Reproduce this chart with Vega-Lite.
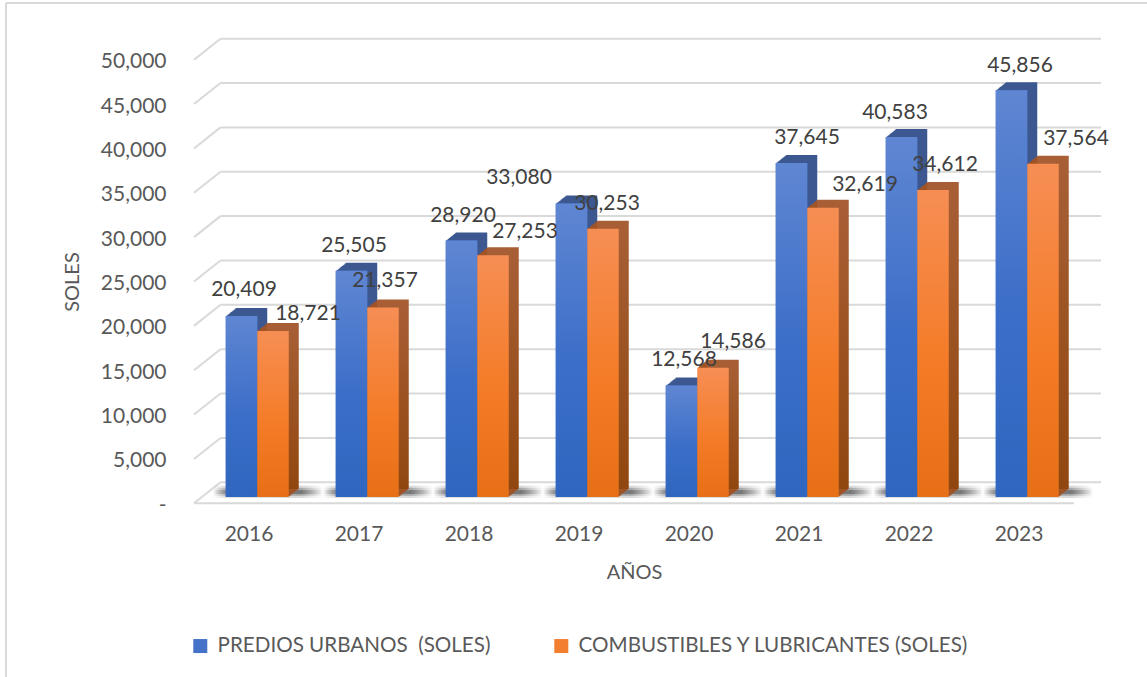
{
"$schema":"https://vega.github.io/schema/vega-lite/v6.json",
"width":880,"height":443.6,
"autosize":"none",
"padding":{"left":194,"top":59.7,"right":73,"bottom":173.7},
"background":"white",
"datasets":{
"bars":[
{"year":2016,"series":"PREDIOS URBANOS \u00a0(SOLES)","soles":20409},
{"year":2017,"series":"PREDIOS URBANOS \u00a0(SOLES)","soles":25505},
{"year":2018,"series":"PREDIOS URBANOS \u00a0(SOLES)","soles":28920},
{"year":2019,"series":"PREDIOS URBANOS \u00a0(SOLES)","soles":33080},
{"year":2020,"series":"PREDIOS URBANOS \u00a0(SOLES)","soles":12568},
{"year":2021,"series":"PREDIOS URBANOS \u00a0(SOLES)","soles":37645},
{"year":2022,"series":"PREDIOS URBANOS \u00a0(SOLES)","soles":40583},
{"year":2023,"series":"PREDIOS URBANOS \u00a0(SOLES)","soles":45856},
{"year":2016,"series":"COMBUSTIBLES Y LUBRICANTES (SOLES)","soles":18721},
{"year":2017,"series":"COMBUSTIBLES Y LUBRICANTES (SOLES)","soles":21357},
{"year":2018,"series":"COMBUSTIBLES Y LUBRICANTES (SOLES)","soles":27253},
{"year":2019,"series":"COMBUSTIBLES Y LUBRICANTES (SOLES)","soles":30253},
{"year":2020,"series":"COMBUSTIBLES Y LUBRICANTES (SOLES)","soles":14586},
{"year":2021,"series":"COMBUSTIBLES Y LUBRICANTES (SOLES)","soles":32619},
{"year":2022,"series":"COMBUSTIBLES Y LUBRICANTES (SOLES)","soles":34612},
{"year":2023,"series":"COMBUSTIBLES Y LUBRICANTES (SOLES)","soles":37564}
],
"grid":[
{"tick":0,"back":2370},{"tick":5000,"back":7370},{"tick":10000,"back":12370},{"tick":15000,"back":17370},{"tick":20000,"back":22370},{"tick":25000,"back":27370},{"tick":30000,"back":32370},{"tick":35000,"back":37370},{"tick":40000,"back":42370},{"tick":45000,"back":47370},{"tick":50000,"back":52370}
]
},
"config":{"view":{"stroke":null},"font":"Lato"},
"resolve":{"scale":{"x":"independent"}},
"layer":[
{
"data":{"name":"grid"},
"layer":[
{"mark":{"type":"rule","color":"#d9d9d9","strokeWidth":2,"clip":false},
 "encoding":{"x":{"datum":26.5,"type":"quantitative","scale":{"domain":[0,880],"range":[0,880]},"axis":null},"x2":{"datum":907},"y":{"field":"back","type":"quantitative","scale":{"domain":[0,50000],"range":[443.6,0],"nice":false},"title":"SOLES","axis":{"values":[0,5000,10000,15000,20000,25000,30000,35000,40000,45000,50000],"labelExpr":"datum.value===0?'-':format(datum.value,',')","domain":false,"ticks":false,"grid":false,"labelPadding":28,"labelOffset":2,"labelFont":"Lato","labelFontSize":21,"labelColor":"#595959","titleFont":"Lato","titleFontSize":20,"titleFontWeight":"normal","titleColor":"#595959","titlePadding":18}}}},
{"mark":{"type":"rule","color":"#d9d9d9","strokeWidth":2,"clip":false},
 "encoding":{"x":{"datum":0,"type":"quantitative","scale":{"domain":[0,880],"range":[0,880]},"axis":null},"x2":{"datum":26.5},"y":{"field":"tick","type":"quantitative"},"y2":{"field":"back"}}},
{"transform":[{"filter":"datum.tick===0"}],"mark":{"type":"rule","color":"#d9d9d9","strokeWidth":2,"clip":false},
 "encoding":{"x":{"datum":0,"type":"quantitative","scale":{"domain":[0,880],"range":[0,880]},"axis":null},"x2":{"datum":880},"y":{"field":"tick","type":"quantitative"}}},
{"transform":[{"filter":"datum.tick===50000"}],"mark":{"type":"rule","color":"#d9d9d9","strokeWidth":2,"clip":false},
 "encoding":{"x":{"datum":-188,"type":"quantitative","scale":{"domain":[0,880],"range":[0,880]},"axis":null},"x2":{"datum":960},"y":{"datum":56400}}},
{"transform":[{"filter":"datum.tick===50000"}],"mark":{"type":"rule","color":"#d9d9d9","strokeWidth":2,"clip":false},
 "encoding":{"x":{"datum":-188,"type":"quantitative","scale":{"domain":[0,880],"range":[0,880]},"axis":null},"y":{"datum":56400},"y2":{"datum":-20000}}}
]
},
{
"data":{"name":"bars"},
"encoding":{
"x":{"field":"year","type":"nominal","scale":{"padding":0,"range":[0,880]},"title":"AÑOS","axis":{"labelAngle":0,"domain":false,"ticks":false,"grid":false,"labelPadding":20,"labelFont":"Lato","labelFontSize":21,"labelColor":"#595959","titleFont":"Lato","titleFontSize":20,"titleFontWeight":"normal","titleColor":"#595959","titlePadding":18}},
"y":{"field":"soles","type":"quantitative"}
},
"layer":[
{"transform":[{"filter":"indexof(datum.series,'PREDIOS')===0"}],
 "mark":{"type":"bar","xOffset":19,"fill":{"x1":0,"y1":0,"x2":1,"y2":0,"gradient":"linear","stops":[{"offset":0,"color":"rgba(50,50,50,0)"},{"offset":0.11,"color":"rgba(50,50,50,0.15)"},{"offset":0.8,"color":"rgba(50,50,50,0.18)"},{"offset":1,"color":"rgba(50,50,50,0)"}]}},
 "encoding":{"y":{"datum":2000},"y2":{"datum":600}}},
{"transform":[{"filter":"indexof(datum.series,'PREDIOS')===0"}],
 "mark":{"type":"bar","xOffset":19,"fill":{"x1":0,"y1":0,"x2":1,"y2":0,"gradient":"linear","stops":[{"offset":0,"color":"rgba(50,50,50,0)"},{"offset":0.11,"color":"rgba(50,50,50,0.25)"},{"offset":0.8,"color":"rgba(50,50,50,0.3)"},{"offset":1,"color":"rgba(50,50,50,0)"}]}},
 "encoding":{"y":{"datum":1750},"y2":{"datum":850}}},
{"transform":[{"filter":"indexof(datum.series,'PREDIOS')===0"}],
 "mark":{"type":"bar","xOffset":19,"fill":{"x1":0,"y1":0,"x2":1,"y2":0,"gradient":"linear","stops":[{"offset":0,"color":"rgba(50,50,50,0)"},{"offset":0.11,"color":"rgba(50,50,50,0.3)"},{"offset":0.8,"color":"rgba(50,50,50,0.4)"},{"offset":1,"color":"rgba(50,50,50,0)"}]}},
 "encoding":{"y":{"datum":1500},"y2":{"datum":1050}}},
{
"encoding":{"y2":{"datum":0}},
"layer":[
{"transform":[{"filter":"indexof(datum.series,'PREDIOS')===0"}],
 "layer":[
 {"mark":{"type":"bar","width":31.5,"fill":"#3d5890","xOffset":-6.5,"yOffset":-7,"y2Offset":-7}},
 {"mark":{"type":"bar","width":31.5,"fill":"#3d5890","xOffset":-5.5,"yOffset":-7.8,"y2Offset":-7.8}},
 {"mark":{"type":"bar","width":31.5,"fill":"#3d5890","xOffset":-4.5,"yOffset":-8.6,"y2Offset":-8.6}},
 {"mark":{"type":"bar","width":31.5,"fill":"#3d5890","xOffset":-3.5,"yOffset":-9.4,"y2Offset":-9.4}},
 {"mark":{"type":"bar","width":31.5,"fill":"#3d5890","xOffset":-2.5,"yOffset":-10.2,"y2Offset":-10.2}},
 {"mark":{"type":"bar","width":31.5,"fill":"#3d5890","xOffset":-1.5,"yOffset":-11,"y2Offset":-11}},
 {"mark":{"type":"bar","width":31.5,"fill":"#3d5890","xOffset":-0.5,"yOffset":-11.8,"y2Offset":-11.8}},
 {"mark":{"type":"bar","width":31.5,"fill":"#3d5890","xOffset":0.5,"yOffset":-12.6,"y2Offset":-12.6}},
 {"mark":{"type":"bar","width":31.5,"fill":"#3d5890","xOffset":1.5,"yOffset":-13.4,"y2Offset":-13.4}},
 {"mark":{"type":"bar","width":31.5,"fill":"#3d5890","xOffset":2.5,"yOffset":-14.2,"y2Offset":-14.2}},
 {"mark":{"type":"bar","width":31.5,"xOffset":-7.5,"yOffset":-6.2,"y2Offset":-6.2},
  "encoding":{"fill":{"field":"series","type":"nominal","sort":null,"title":null,
   "scale":{"domain":["PREDIOS URBANOS \u00a0(SOLES)","COMBUSTIBLES Y LUBRICANTES (SOLES)"],"range":["#4472c9","#f47e30"]},
   "legend":{"orient":"none","legendX":-4,"legendY":576,"columns":2,"direction":"horizontal","symbolType":"square","symbolSize":196,"symbolStrokeWidth":0,"labelFont":"Lato","labelFontSize":20.6,"labelColor":"#595959","columnPadding":60,"labelOffset":7,"labelLimit":500}}}},
 {"mark":{"type":"bar","width":31.5,"xOffset":-7.5,"yOffset":-6.2,"y2Offset":-6.2,"fill":{"x1":0,"y1":0,"x2":0,"y2":1,"gradient":"linear","stops":[{"offset":0,"color":"#5f86d2"},{"offset":0.55,"color":"#3b6ec8"},{"offset":1,"color":"#3066bf"}]}}}
 ]},
{"transform":[{"filter":"indexof(datum.series,'COMB')===0"}],
 "layer":[
 {"mark":{"type":"bar","width":31.5,"fill":"#a05527","xOffset":25,"yOffset":-7,"y2Offset":-7}},
 {"mark":{"type":"bar","width":31.5,"fill":"#a05527","xOffset":26,"yOffset":-7.8,"y2Offset":-7.8}},
 {"mark":{"type":"bar","width":31.5,"fill":"#a05527","xOffset":27,"yOffset":-8.6,"y2Offset":-8.6}},
 {"mark":{"type":"bar","width":31.5,"fill":"#a05527","xOffset":28,"yOffset":-9.4,"y2Offset":-9.4}},
 {"mark":{"type":"bar","width":31.5,"fill":"#a05527","xOffset":29,"yOffset":-10.2,"y2Offset":-10.2}},
 {"mark":{"type":"bar","width":31.5,"fill":"#a05527","xOffset":30,"yOffset":-11,"y2Offset":-11}},
 {"mark":{"type":"bar","width":31.5,"fill":"#a05527","xOffset":31,"yOffset":-11.8,"y2Offset":-11.8}},
 {"mark":{"type":"bar","width":31.5,"fill":"#a05527","xOffset":32,"yOffset":-12.6,"y2Offset":-12.6}},
 {"mark":{"type":"bar","width":31.5,"fill":"#a05527","xOffset":33,"yOffset":-13.4,"y2Offset":-13.4}},
 {"mark":{"type":"bar","width":31.5,"fill":{"x1":0,"y1":0,"x2":0,"y2":1,"gradient":"linear","stops":[{"offset":0,"color":"#a85f36"},{"offset":1,"color":"#90470f"}]},"xOffset":34,"yOffset":-14.2,"y2Offset":-14.2}},
 {"mark":{"type":"bar","width":31.5,"xOffset":24,"yOffset":-6.2,"y2Offset":-6.2,"fill":{"x1":0,"y1":0,"x2":0,"y2":1,"gradient":"linear","stops":[{"offset":0,"color":"#f68e54"},{"offset":0.55,"color":"#f47c28"},{"offset":1,"color":"#e76f16"}]}}}
 ]},
{"transform":[{"filter":"indexof(datum.series,'PREDIOS')===0"}],
 "mark":{"type":"text","font":"Lato","fontSize":21,"color":"#404040","baseline":"middle","align":"center",
  "dx":{"expr":"[-5,-5,-6,-60,-5,8,-14,1][datum.year-2016]"},
  "dy":{"expr":"[-32,-31,-30.7,-32,-32,-31,-30,-30.5][datum.year-2016]"}},
 "encoding":{"text":{"field":"soles","type":"quantitative","format":","}}},
{"transform":[{"filter":"indexof(datum.series,'COMB')===0"}],
 "mark":{"type":"text","font":"Lato","fontSize":21,"color":"#404040","baseline":"middle","align":"center",
  "dx":{"expr":"[59,26,56,28,44,66,36,57][datum.year-2016]"},
  "dy":{"expr":"[-23,-33,-29.5,-31,-32,-29,-31,-31][datum.year-2016]"}},
 "encoding":{"text":{"field":"soles","type":"quantitative","format":","}}}
]
}
]
}
]
}
